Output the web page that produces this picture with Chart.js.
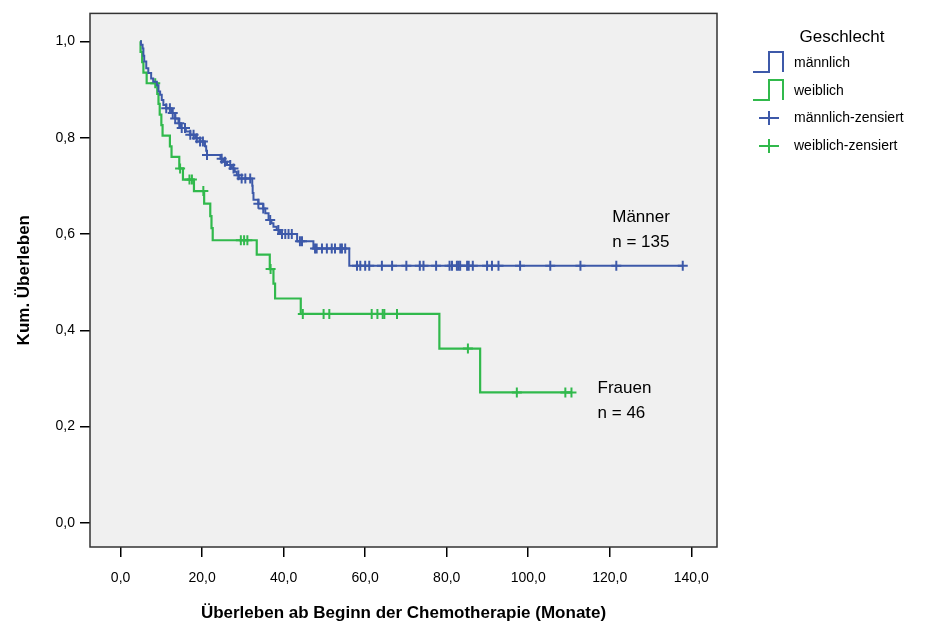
<!DOCTYPE html>
<html>
<head>
<meta charset="utf-8">
<script src="https://cdn.jsdelivr.net/npm/chart.js@4.4.1/dist/chart.umd.min.js"></script>
<style>
  html, body { margin: 0; padding: 0; background: #fff; }
  #wrap { width: 929px; height: 628px; }
</style>
</head>
<body>
<div id="wrap"><canvas id="km"></canvas></div>
<script>
// Kaplan-Meier steps: time (Monate) where the curve drops, level after the drop
const maleTimes = [4.8, 5.0, 5.4, 5.6, 5.8, 6.3, 6.8, 7.5, 8.0, 8.9, 9.3, 9.7, 10.1, 10.5, 11.2, 12.5, 13.4, 14.2, 14.8,
  16.0, 17.1, 18.3, 19.5, 20.7, 21.0, 21.2, 24.5, 25.2, 26.1, 27.3, 28.0, 28.5, 29.0, 32.3, 32.4, 32.6, 33.8,
  35.0, 35.5, 36.3, 37.0, 37.5, 38.3, 39.1, 43.3, 47.3, 56.1, 137.9];
const maleSurv = [1.0, 0.993, 0.985, 0.970, 0.958, 0.944, 0.934, 0.923, 0.916, 0.909, 0.896, 0.889, 0.878, 0.868, 0.861,
  0.851, 0.840, 0.830, 0.820, 0.813, 0.806, 0.799, 0.792, 0.782, 0.773, 0.764, 0.756, 0.750, 0.743, 0.736, 0.729,
  0.722, 0.715, 0.700, 0.685, 0.671, 0.663, 0.653, 0.643, 0.629, 0.622, 0.615, 0.608, 0.600, 0.585, 0.570, 0.534, 0.534];
const maleCensored = [11.2, 12.1, 12.8, 13.4, 14.4, 15.0, 15.8, 17.1, 17.9, 18.7, 19.5, 20.2, 21.2, 24.8, 25.6, 26.9,
  27.7, 28.9, 29.7, 30.6, 31.8, 33.8, 35.0, 36.7, 38.7, 39.6, 40.4, 41.2, 42.0, 44.0, 44.5, 47.7, 48.1, 49.4, 50.6,
  51.8, 52.6, 53.9, 54.3, 55.1, 58.0, 58.8, 60.0, 61.0, 64.1, 66.6, 70.1, 73.4, 74.3, 77.4, 80.7, 81.3, 82.5, 82.9,
  83.3, 85.0, 85.4, 86.4, 89.9, 91.1, 92.7, 98.0, 105.4, 112.8, 121.6, 137.9];

const femaleTimes = [4.8, 4.9, 5.3, 5.6, 6.4, 9.0, 9.3, 9.6, 10.0, 10.3, 12.1, 12.5, 14.4, 15.3, 18.0, 20.5, 22.0,
  22.3, 22.6, 33.4, 36.6, 37.5, 37.9, 44.2, 78.2, 88.2, 110.6];
const femaleSurv = [1.0, 0.978, 0.957, 0.935, 0.913, 0.891, 0.870, 0.848, 0.826, 0.804, 0.782, 0.760, 0.736, 0.713,
  0.689, 0.663, 0.637, 0.612, 0.587, 0.557, 0.527, 0.497, 0.466, 0.434, 0.362, 0.271, 0.271];
const femaleCensored = [8.5, 14.6, 16.9, 17.5, 20.3, 29.5, 30.3, 31.1, 36.8, 44.7, 49.8, 51.2, 61.6, 63.0, 64.3, 64.7,
  67.8, 85.2, 97.2, 109.1, 110.6];

const xTicks = [0, 20, 40, 60, 80, 100, 120, 140];
const yTicks = [0, 0.2, 0.4, 0.6, 0.8, 1.0];

const BLUE = '#3d59a9';
const GREEN = '#31b94c';
const FONT = "'Liberation Sans', Arial, sans-serif";

function levelAt(times, surv, t) {
  let s = surv[0];
  for (let i = 0; i < times.length; i++) {
    if (times[i] <= t) s = surv[i];
  }
  return s;
}

const toPoints = (times, surv) => times.map((t, i) => ({ x: t, y: surv[i] }));
const censorPoints = (cens, times, surv) => cens.map(t => ({ x: t, y: levelAt(times, surv, t) }));
const comma = v => Number(v).toFixed(1).replace('.', ',');

// grey plot background, frame, group labels and the legend
const decor = {
  id: 'decor',
  beforeDraw(chart) {
    const { ctx, chartArea: a } = chart;
    ctx.save();
    ctx.fillStyle = '#f0f0f0';
    ctx.fillRect(a.left, a.top, a.right - a.left, a.bottom - a.top);
    ctx.restore();
  },
  afterDraw(chart) {
    const { ctx, chartArea: a, scales } = chart;
    ctx.save();
    ctx.strokeStyle = '#333';
    ctx.lineWidth = 1.5;
    ctx.strokeRect(a.left, a.top, a.right - a.left, a.bottom - a.top);

    ctx.fillStyle = '#000';
    ctx.font = '17px ' + FONT;
    ctx.textAlign = 'left';
    ctx.textBaseline = 'middle';
    ctx.fillText('Männer', scales.x.getPixelForValue(120.6), scales.y.getPixelForValue(0.635));
    ctx.fillText('n = 135', scales.x.getPixelForValue(120.6), scales.y.getPixelForValue(0.583));
    ctx.fillText('Frauen', scales.x.getPixelForValue(117.0), scales.y.getPixelForValue(0.280));
    ctx.fillText('n = 46', scales.x.getPixelForValue(117.0), scales.y.getPixelForValue(0.228));

    // legend
    ctx.textAlign = 'center';
    ctx.fillText('Geschlecht', 842, 37);
    ctx.font = '14px ' + FONT;
    ctx.textAlign = 'left';
    const steps = [[BLUE, 52, 'männlich'], [GREEN, 80, 'weiblich']];
    steps.forEach(([c, top, label]) => {
      ctx.strokeStyle = c;
      ctx.lineWidth = 2;
      ctx.beginPath();
      ctx.moveTo(753, top + 20);
      ctx.lineTo(769, top + 20);
      ctx.lineTo(769, top);
      ctx.lineTo(783, top);
      ctx.lineTo(783, top + 20);
      ctx.stroke();
      ctx.fillText(label, 794, top + 11);
    });
    const crosses = [[BLUE, 118, 'männlich-zensiert'], [GREEN, 146, 'weiblich-zensiert']];
    crosses.forEach(([c, y, label]) => {
      ctx.strokeStyle = c;
      ctx.lineWidth = 2;
      ctx.beginPath();
      ctx.moveTo(759, y);
      ctx.lineTo(779, y);
      ctx.moveTo(769, y - 7);
      ctx.lineTo(769, y + 7);
      ctx.stroke();
      ctx.fillText(label, 794, y);
    });
    ctx.restore();
  }
};

new Chart(document.getElementById('km'), {
  type: 'scatter',
  data: {
    datasets: [
      {
        label: 'männlich',
        data: toPoints(maleTimes, maleSurv),
        showLine: true,
        stepped: true,
        borderColor: BLUE,
        borderWidth: 2,
        pointRadius: 0
      },
      {
        label: 'weiblich',
        data: toPoints(femaleTimes, femaleSurv),
        showLine: true,
        stepped: true,
        borderColor: GREEN,
        borderWidth: 2.2,
        pointRadius: 0
      },
      {
        label: 'männlich-zensiert',
        data: censorPoints(maleCensored, maleTimes, maleSurv),
        pointStyle: 'cross',
        pointRadius: 5,
        pointBorderWidth: 2,
        borderColor: BLUE,
        backgroundColor: BLUE
      },
      {
        label: 'weiblich-zensiert',
        data: censorPoints(femaleCensored, femaleTimes, femaleSurv),
        pointStyle: 'cross',
        pointRadius: 5,
        pointBorderWidth: 2,
        borderColor: GREEN,
        backgroundColor: GREEN
      }
    ]
  },
  options: {
    responsive: true,
    maintainAspectRatio: false,
    animation: false,
    layout: { padding: { left: 10, top: 13, right: 212, bottom: 4 } },
    plugins: {
      legend: { display: false },
      tooltip: { enabled: false }
    },
    scales: {
      x: {
        type: 'linear',
        min: -7.5,
        max: 146.3,
        afterBuildTicks: s => { s.ticks = xTicks.map(v => ({ value: v })); },
        afterFit: s => { s.height = 628 - 4 - 547; },
        border: { display: false },
        grid: { drawOnChartArea: false, drawTicks: true, tickLength: 10, color: '#000', lineWidth: 1.5 },
        ticks: { callback: comma, color: '#000', padding: 13, maxRotation: 0, font: { family: FONT, size: 14 } },
        title: {
          display: true,
          text: 'Überleben ab Beginn der Chemotherapie (Monate)',
          color: '#000',
          padding: { top: 8, bottom: 0 },
          font: { family: FONT, size: 17, weight: 'bold' }
        }
      },
      y: {
        type: 'linear',
        min: -0.05,
        max: 1.058,
        afterBuildTicks: s => { s.ticks = yTicks.map(v => ({ value: v })); },
        afterFit: s => { s.width = 90 - 10; },
        border: { display: false },
        grid: { drawOnChartArea: false, drawTicks: true, tickLength: 10, color: '#000', lineWidth: 1.5 },
        ticks: { callback: comma, color: '#000', padding: 5, font: { family: FONT, size: 14 } },
        title: {
          display: true,
          text: 'Kum. Überleben',
          color: '#000',
          padding: { top: 4, bottom: 4 },
          font: { family: FONT, size: 17, weight: 'bold' }
        }
      }
    }
  },
  plugins: [decor]
});
</script>
</body>
</html>
